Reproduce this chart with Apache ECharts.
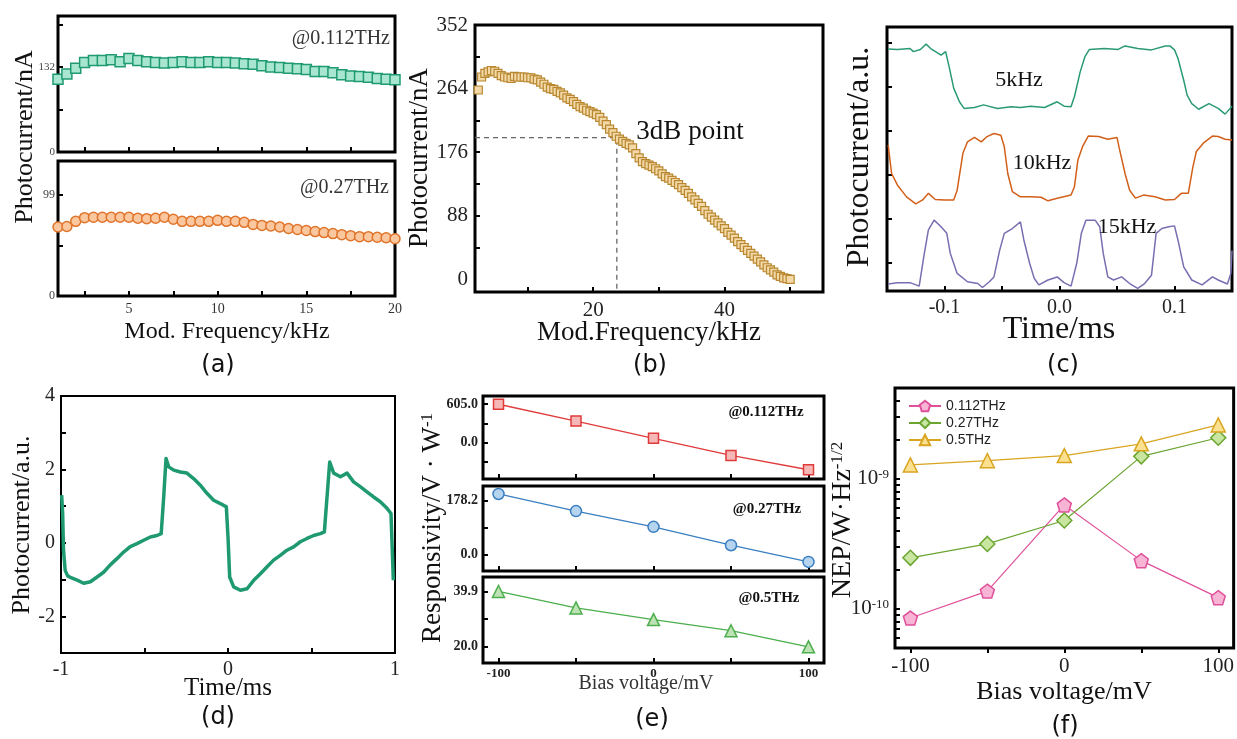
<!DOCTYPE html>
<html><head><meta charset="utf-8">
<script src="https://cdn.jsdelivr.net/npm/echarts@6/dist/echarts.min.js"></script>
<style>html,body{margin:0;padding:0;background:#fff}#c{width:1237px;height:739px}</style>
</head><body><div id="c"></div><script>
// ---------- DATA ----------
// (a) modulation frequency response
const freqA = [1,1.5,2,2.5,3,3.5,4,4.5,5,5.5,6,6.5,7,7.5,8,8.5,9,9.5,10,10.5,11,11.5,12,12.5,13,13.5,14,14.5,15,15.5,16,16.5,17,17.5,18,18.5,19,19.5,20];
const photoA112 = [113,121,130,139,142,142,143,140,145,142,140,139,138,139,140,139,139,140,139,139,138,137,136,134,132,131,130,129,128,125,125,123,120,118,117,116,114,113,112];
const photoA27 = [67.5,68,73,76.6,77,77,77,77,77,76,75.6,76,77,75,73,73,73,73,74,73,73,72,70,69,68.5,67.5,66,65,64,63,62,61,60,59,58,58,57.5,57,56];
const ticksA112 = [0,132];
const ticksA27 = [0,99];
const ticksAx = [5,10,15,20];
// (b) wide frequency response
const freqBStart = 2.5, freqBStep = 0.5;
const photoB = [262,280,285,287,289,288,285,282,280,279,278,281,280,280,280,279,279,277,276,273,270,266,264,263,260,258,255,251,249,246,242,239,237,234,232,230,228,224,219,214,208,203,198,194,191,188,186,182,174,168,163,160,158,156,153,150,146,142,140,137,134,131,127,123,119,114,110,105,101,95,90,86,82,78,74,70,65,61,57,52,48,44,40,36,32,28,24,20,16,13,10,6,4,2,1,0];
const point3dB = [23.6,196];
const ticksBy = [0,88,176,264,352];
const ticksBx = [20,40];
// (c) time traces
const tC5 = [-0.149,-0.141,-0.130,-0.127,-0.121,-0.116,-0.112,-0.103,-0.099,-0.096,-0.092,-0.087,-0.083,-0.074,-0.066,-0.054,-0.042,-0.034,-0.025,-0.013,-0.002,0.004,0.010,0.013,0.018,0.022,0.026,0.039,0.051,0.057,0.068,0.080,0.092,0.096,0.100,0.103,0.108,0.111,0.115,0.121,0.130,0.138,0.144,0.150];
const vC5 = [5.85,5.84,5.86,5.79,5.84,5.96,5.86,5.71,5.79,5.45,4.96,4.65,4.50,4.52,4.58,4.50,4.54,4.52,4.55,4.52,4.65,4.55,4.54,4.77,5.33,5.67,5.84,5.86,5.84,5.92,5.86,5.83,5.92,5.92,5.83,5.64,5.14,4.80,4.61,4.48,4.61,4.50,4.37,4.55];
const tC10 = [-0.149,-0.146,-0.141,-0.133,-0.125,-0.119,-0.114,-0.108,-0.100,-0.092,-0.089,-0.084,-0.080,-0.074,-0.068,-0.063,-0.057,-0.051,-0.048,-0.045,-0.041,-0.034,-0.025,-0.016,-0.010,-0.002,0.010,0.013,0.016,0.020,0.025,0.034,0.042,0.050,0.052,0.057,0.061,0.066,0.073,0.083,0.092,0.100,0.106,0.112,0.116,0.119,0.125,0.133,0.138,0.144,0.150];
const vC10 = [3.67,3.02,2.76,2.49,2.33,2.42,2.57,2.43,2.42,2.42,2.64,3.48,3.74,3.84,3.74,3.86,3.93,3.89,3.63,3.02,2.61,2.49,2.49,2.48,2.40,2.46,2.53,2.72,3.33,3.63,3.87,3.86,3.80,3.84,3.59,3.02,2.64,2.46,2.53,2.49,2.42,2.43,2.57,2.57,3.17,3.52,3.71,3.87,3.86,3.80,3.78];
const tC15 = [-0.149,-0.141,-0.130,-0.122,-0.118,-0.114,-0.109,-0.103,-0.098,-0.095,-0.089,-0.080,-0.071,-0.067,-0.061,-0.057,-0.052,-0.048,-0.041,-0.034,-0.031,-0.026,-0.022,-0.018,-0.010,-0.002,0.004,0.010,0.015,0.019,0.023,0.031,0.035,0.038,0.042,0.047,0.054,0.061,0.068,0.074,0.080,0.084,0.089,0.095,0.100,0.103,0.108,0.115,0.124,0.133,0.138,0.146,0.149,0.150];
const vC15 = [0.51,0.54,0.54,0.46,1.13,1.74,1.96,1.81,1.66,1.21,0.75,0.56,0.52,0.43,0.56,0.67,1.28,1.66,1.77,1.92,1.51,0.98,0.64,0.49,0.60,0.67,0.54,0.46,0.98,1.66,1.96,1.96,1.81,1.21,0.67,0.60,0.67,0.52,0.41,0.52,0.71,1.66,1.77,1.81,1.83,1.51,0.90,0.60,0.49,0.67,0.60,0.51,0.75,1.27];
const ticksCx = [-0.1,0,0.1];
// (d) long time trace
const tD = [-0.996,-0.99,-0.985,-0.975,-0.96,-0.94,-0.90,-0.864,-0.824,-0.784,-0.745,-0.705,-0.665,-0.625,-0.585,-0.545,-0.505,-0.465,-0.425,-0.40,-0.385,-0.371,-0.355,-0.325,-0.285,-0.246,-0.206,-0.166,-0.126,-0.086,-0.046,-0.01,0.0,0.01,0.034,0.074,0.114,0.154,0.194,0.234,0.273,0.313,0.353,0.393,0.433,0.473,0.513,0.553,0.577,0.593,0.609,0.633,0.673,0.713,0.752,0.792,0.832,0.872,0.912,0.952,0.976,0.99];
const vD = [1.3,0.8,-0.2,-0.75,-0.9,-0.95,-1.02,-1.1,-1.06,-0.93,-0.8,-0.6,-0.43,-0.25,-0.1,-0.02,0.07,0.16,0.2,0.25,1.25,2.3,2.07,1.98,1.93,1.9,1.75,1.57,1.35,1.16,1.07,0.98,0.16,-0.93,-1.2,-1.29,-1.25,-1.02,-0.84,-0.65,-0.47,-0.34,-0.2,-0.11,0.03,0.12,0.2,0.25,0.3,1.25,2.2,1.9,1.8,1.9,1.66,1.53,1.39,1.25,1.12,0.94,0.8,-1.02];
const ticksDy = [-2,0,2,4];
const ticksDx = [-1,0,1];
// (e) responsivity
const biasE = [-100,-50,0,50,100];
const resp112 = [605,339,68,-203,-428];
const resp27 = [200.5,143.7,91.3,30,-25.6];
const resp5 = [39.9,34.0,29.8,25.8,20.0];
const ticksE112 = [0,605];
const ticksE27 = [0,178.2];
const ticksE5 = [20,39.9];
const ticksEx = [-100,0,100];
// (f) NEP
const biasF = [-100,-50,0,50,100];
const nep112 = [8.5e-11,1.37e-10,6.3e-10,2.35e-10,1.22e-10];
const nep27 = [2.47e-10,3.16e-10,4.78e-10,1.49e-9,2.07e-9];
const nep5 = [1.28e-9,1.38e-9,1.51e-9,1.86e-9,2.6e-9];
const ticksFy = [1e-10,1e-9];
const ticksFx = [-100,0,100];

// ---------- HELPERS ----------
const SERIF = 'Liberation Serif';
const zip = (xs, ys) => ys.map((v, i) => [xs[i], v]);
const freqB = photoB.map((_, i) => freqBStart + i * freqBStep);

function axis(kind, gi, min, max, labels, ticks, o) {
  o = o || {};
  const a = {
    type: o.type || 'value', gridIndex: gi, min: min, max: max,
    position: kind === 'x' ? 'bottom' : 'left',
    axisLine: {show: false, onZero: false}, splitLine: {show: false},
    axisTick: {show: true, inside: o.tickOut ? false : true, length: o.tickLen || 5,
      lineStyle: {color: '#000', width: 2}, customValues: ticks},
    axisLabel: {show: !!labels, customValues: labels || [], fontFamily: SERIF,
      fontSize: o.fs || 14, fontWeight: o.bold ? 'bold' : 'normal', color: o.lc || '#222',
      margin: o.margin || 6, formatter: o.fmt, rich: o.rich}
  };
  if (!labels) a.axisLabel = {show: false};
  return a;
}
function txt(x, y, text, font, o) {
  o = o || {};
  return {type: 'text', x: x, y: y, rotation: o.rot ? Math.PI / 2 : 0, silent: true, z: 100,
    style: {text: text, font: font, fill: o.fill || '#111',
      align: o.align || 'center', verticalAlign: 'middle',
      textAlign: o.align || 'center', textVerticalAlign: 'middle', rich: o.rich}};
}
const grid = (l, t, w, h, bw) => ({left: l, top: t, width: w, height: h, show: true,
  borderColor: '#000', borderWidth: bw || 3, backgroundColor: 'transparent', containLabel: false});

const grids = [
  grid(58, 16, 337, 136),   // 0 a top
  grid(58, 161, 337, 135),  // 1 a bottom
  grid(475, 25, 348, 267),  // 2 b
  grid(887, 27, 345, 264),  // 3 c
  grid(61, 396, 334, 257, 2), // 4 d
  grid(483, 396, 341, 83),  // 5 e1
  grid(483, 486, 341, 85),  // 6 e2
  grid(483, 577, 341, 86),  // 7 e3
  grid(895, 388, 340, 260)  // 8 f
];

const xAxes = [
  axis('x', 0, 1, 20, null, [2.5,5,7.5,10,12.5,15,17.5]),
  axis('x', 1, 1, 20, ticksAx, [2.5,5,7.5,10,12.5,15,17.5], {fs: 14, margin: 6, lc: '#333'}),
  axis('x', 2, 2, 55, ticksBx, [10,20,30,40,50], {fs: 21, margin: 8}),
  axis('x', 3, -0.15, 0.15, ticksCx, [-0.1,-0.05,0,0.05,0.1], {fs: 20, margin: 7, fmt: v => Math.abs(v) < 1e-9 ? '0.0' : String(v)}),
  axis('x', 4, -1, 1, ticksDx, [-0.5,0,0.5], {fs: 20, margin: 7}),
  axis('x', 5, -110, 110, null, biasE),
  axis('x', 6, -110, 110, null, biasE),
  axis('x', 7, -110, 110, ticksEx, biasE, {fs: 13, bold: true, margin: 4}),
  axis('x', 8, -110, 110, ticksFx, [-100,-50,0,50,100], {fs: 21, margin: 8, tickOut: true})
];
const fixed1 = v => v.toFixed(1);
const yAxes = [
  axis('y', 0, 0, 211, ticksA112, [66,132,198], {fs: 11, margin: 3, lc: '#444'}),
  axis('y', 1, 0, 132, ticksA27, [49.5,99], {fs: 12, margin: 3, lc: '#444'}),
  axis('y', 2, -17.6, 352, ticksBy, [44,88,132,176,220,264,308], {fs: 21, margin: 7}),
  axis('y', 3, 0.35, 6.35, null, [1,2,3,4,5,6]),
  axis('y', 4, -3, 4, ticksDy, [-2,-1,0,1,2,3], {fs: 20, margin: 6}),
  axis('y', 5, -574, 735, ticksE112, [-302.5,0,302.5,605], {fs: 14, bold: true, margin: 5, fmt: fixed1}),
  axis('y', 6, -55.7, 227, ticksE27, [0,89.1,178.2], {fs: 14, bold: true, margin: 5, fmt: fixed1}),
  axis('y', 7, 14.2, 45.1, ticksE5, [20,29.95,39.9], {fs: 14, bold: true, margin: 5, fmt: fixed1}),
  axis('y', 8, 5e-11, 5e-9, ticksFy,
    [6e-11,7e-11,8e-11,9e-11,1e-10,2e-10,3e-10,4e-10,5e-10,6e-10,7e-10,8e-10,9e-10,1e-9,2e-9,3e-9,4e-9],
    {type: 'log', margin: 6, fmt: v => '{b|10}{s|' + Math.round(Math.log10(v)) + '}',
     rich: {b: {fontFamily: SERIF, fontSize: 21, color: '#222'}, s: {fontFamily: SERIF, fontSize: 13, color: '#222', verticalAlign: 'top'}}})
];
yAxes[8].logBase = 10;

const PENT = 'path://M50,0 L97.6,34.5 L79.4,90.5 L20.6,90.5 L2.4,34.5 Z';
const common = {animation: false, emphasis: {disabled: true}};
const series = [
  Object.assign({type: 'scatter', xAxisIndex: 0, yAxisIndex: 0, symbol: 'rect', symbolSize: 10,
    itemStyle: {color: '#a9e6cf', borderColor: '#1f9a73', borderWidth: 1.5, opacity: 1},
    data: zip(freqA, photoA112)}, common),
  Object.assign({type: 'scatter', xAxisIndex: 1, yAxisIndex: 1, symbol: 'circle', symbolSize: 10,
    itemStyle: {color: '#fbc79f', borderColor: '#e0742a', borderWidth: 1.5, opacity: 1},
    data: zip(freqA, photoA27)}, common),
  Object.assign({type: 'line', xAxisIndex: 2, yAxisIndex: 2, symbol: 'none', z: 1,
    lineStyle: {color: '#666', width: 1.3, type: [5, 4]},
    data: [[2, point3dB[1]], point3dB, [point3dB[0], -17.6]]}, common),
  Object.assign({type: 'scatter', xAxisIndex: 2, yAxisIndex: 2, symbol: 'rect', symbolSize: 8, z: 3,
    itemStyle: {color: '#f3d9a7', borderColor: '#b8872f', borderWidth: 1.2, opacity: 1},
    data: zip(freqB, photoB)}, common),
  Object.assign({type: 'line', xAxisIndex: 3, yAxisIndex: 3, showSymbol: false, symbol: 'none',
    lineStyle: {color: '#2a9a74', width: 1.5}, data: zip(tC5, vC5)}, common),
  Object.assign({type: 'line', xAxisIndex: 3, yAxisIndex: 3, showSymbol: false, symbol: 'none',
    lineStyle: {color: '#d2601a', width: 1.5}, data: zip(tC10, vC10)}, common),
  Object.assign({type: 'line', xAxisIndex: 3, yAxisIndex: 3, showSymbol: false, symbol: 'none',
    lineStyle: {color: '#7a6db0', width: 1.5}, data: zip(tC15, vC15)}, common),
  Object.assign({type: 'line', xAxisIndex: 4, yAxisIndex: 4, showSymbol: false, symbol: 'none',
    lineStyle: {color: '#1f9a70', width: 3.5, join: 'round'}, data: zip(tD, vD)}, common),
  Object.assign({type: 'line', xAxisIndex: 5, yAxisIndex: 5, symbol: 'rect', symbolSize: 10,
    lineStyle: {color: '#e03a3a', width: 1.3},
    itemStyle: {color: '#f6b7b7', borderColor: '#e03a3a', borderWidth: 1.5},
    data: zip(biasE, resp112)}, common),
  Object.assign({type: 'line', xAxisIndex: 6, yAxisIndex: 6, symbol: 'circle', symbolSize: 11,
    lineStyle: {color: '#3a7fc2', width: 1.3},
    itemStyle: {color: '#b7d4ef', borderColor: '#3a7fc2', borderWidth: 1.5},
    data: zip(biasE, resp27)}, common),
  Object.assign({type: 'line', xAxisIndex: 7, yAxisIndex: 7, symbol: 'triangle', symbolSize: 12,
    lineStyle: {color: '#4cae4c', width: 1.3},
    itemStyle: {color: '#bde3b4', borderColor: '#4cae4c', borderWidth: 1.5},
    data: zip(biasE, resp5)}, common),
  Object.assign({name: '0.112THz', type: 'line', xAxisIndex: 8, yAxisIndex: 8, symbol: PENT, symbolSize: 14,
    lineStyle: {color: '#e0509a', width: 1.2},
    itemStyle: {color: '#f7b4d4', borderColor: '#e0509a', borderWidth: 1.5},
    data: zip(biasF, nep112)}, common),
  Object.assign({name: '0.27THz', type: 'line', xAxisIndex: 8, yAxisIndex: 8, symbol: 'diamond', symbolSize: 15,
    lineStyle: {color: '#6aa532', width: 1.2},
    itemStyle: {color: '#c8e6a0', borderColor: '#6aa532', borderWidth: 1.5},
    data: zip(biasF, nep27)}, common),
  Object.assign({name: '0.5THz', type: 'line', xAxisIndex: 8, yAxisIndex: 8, symbol: 'triangle', symbolSize: 14,
    lineStyle: {color: '#d9a520', width: 1.2},
    itemStyle: {color: '#fbe08f', borderColor: '#d9a520', borderWidth: 1.5},
    data: zip(biasF, nep5)}, common)
];

const supRich = (big, small) => ({m: {font: big + 'px ' + SERIF, fill: '#111'}, s: {font: small + 'px ' + SERIF, fill: '#111', verticalAlign: 'top'}});
const PL = '24px DejaVu Sans';
const graphics = [
  txt(25, 137, 'Photocurrent/nA', '26px ' + SERIF, {rot: 1}),
  txt(227, 332, 'Mod. Frequency/kHz', '24px ' + SERIF),
  txt(390, 39, '@0.112THz', '20px ' + SERIF, {align: 'right', fill: '#333'}),
  txt(389, 188, '@0.27THz', '20px ' + SERIF, {align: 'right', fill: '#333'}),
  txt(218, 366, '(a)', PL),
  txt(420, 158, 'Photocurrent/nA', '27px ' + SERIF, {rot: 1}),
  txt(649, 333, 'Mod.Frequency/kHz', '27px ' + SERIF),
  txt(690, 132, '3dB point', '27px ' + SERIF),
  txt(650, 366, '(b)', PL),
  txt(860, 157, 'Photocurrent/a.u.', '32px ' + SERIF, {rot: 1}),
  txt(1059, 330, 'Time/ms', '32px ' + SERIF),
  txt(1019, 80, '5kHz', '22px ' + SERIF),
  txt(1042, 163, '10kHz', '22px ' + SERIF),
  txt(1127, 227, '15kHz', '22px ' + SERIF),
  txt(1063, 366, '(c)', PL),
  txt(22, 525, 'Photocurrent/a.u.', '26px ' + SERIF, {rot: 1}),
  txt(228, 688, 'Time/ms', '25px ' + SERIF),
  txt(218, 718, '(d)', PL),
  txt(433, 528, '{m|Responsivity/V · W}{s|-1}', '27px ' + SERIF, {rot: 1, rich: supRich(27, 17)}),
  txt(646, 684, 'Bias voltage/mV', '20px ' + SERIF, {fill: '#333'}),
  txt(766, 412, '@0.112THz', 'bold 15px ' + SERIF),
  txt(767, 509, '@0.27THz', 'bold 15px ' + SERIF),
  txt(769, 598, '@0.5THz', 'bold 15px ' + SERIF),
  txt(652, 720, '(e)', PL),
  txt(843, 520, '{m|NEP/W·Hz}{s|-1/2}', '28px ' + SERIF, {rot: 1, rich: supRich(28, 17)}),
  txt(1064, 692, 'Bias voltage/mV', '26px ' + SERIF),
  txt(1065, 727, '(f)', PL)
];

const chart = echarts.init(document.getElementById('c'), null, {renderer: 'canvas'});
chart.setOption({
  animation: false,
  backgroundColor: '#fff',
  grid: grids,
  xAxis: xAxes,
  yAxis: yAxes,
  legend: {show: true, left: 903, top: 394, orient: 'vertical', itemGap: 3, itemWidth: 32, itemHeight: 13,
    textStyle: {fontFamily: 'Liberation Sans', fontSize: 14, color: '#222'},
    data: ['0.112THz', '0.27THz', '0.5THz']},
  series: series,
  graphic: graphics
});
</script></body></html>
